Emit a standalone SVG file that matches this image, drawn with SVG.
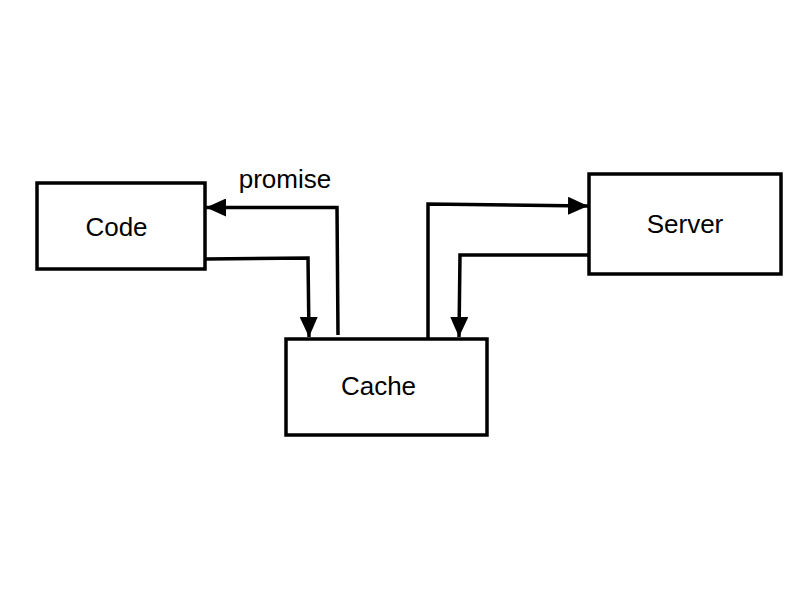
<svg xmlns="http://www.w3.org/2000/svg" width="800" height="600" viewBox="0 0 800 600">
<style>
.box{fill:#fff;stroke:#000;stroke-width:3.5}
.lbl{font-family:"Liberation Sans",Arial,sans-serif;font-size:26px;fill:#000;text-anchor:middle}
.conn{fill:none;stroke:#000;stroke-width:3.5}
</style>
<defs>
<marker id="ah" markerUnits="userSpaceOnUse" markerWidth="20" markerHeight="18" refX="20" refY="9" orient="auto">
<path d="M0,0 L20,9 L0,18 Z" fill="#000"/>
</marker>
</defs>
<rect width="800" height="600" fill="#fff"/>
<g id="code"><rect class="box" x="37" y="183" width="168" height="86"/><text class="lbl" x="116.5" y="236">Code</text></g>
<g id="cache"><rect class="box" x="286" y="339" width="201" height="96"/><text class="lbl" x="378.5" y="395">Cache</text></g>
<g id="server"><rect class="box" x="589" y="174" width="192" height="100"/><text class="lbl" x="685" y="233">Server</text></g>
<g id="connectors">
<path class="conn" d="M205,259 L308,258 L309,337" marker-end="url(#ah)"/>
<path class="conn" d="M338,335 L337,207.5 L206,207.5" marker-end="url(#ah)"/>
<path class="conn" d="M428,338 L428,204 L588,206" marker-end="url(#ah)"/>
<path class="conn" d="M589,255 L460,255 L459,337" marker-end="url(#ah)"/>
<text class="lbl" x="285" y="188">promise</text>
</g>
</svg>
